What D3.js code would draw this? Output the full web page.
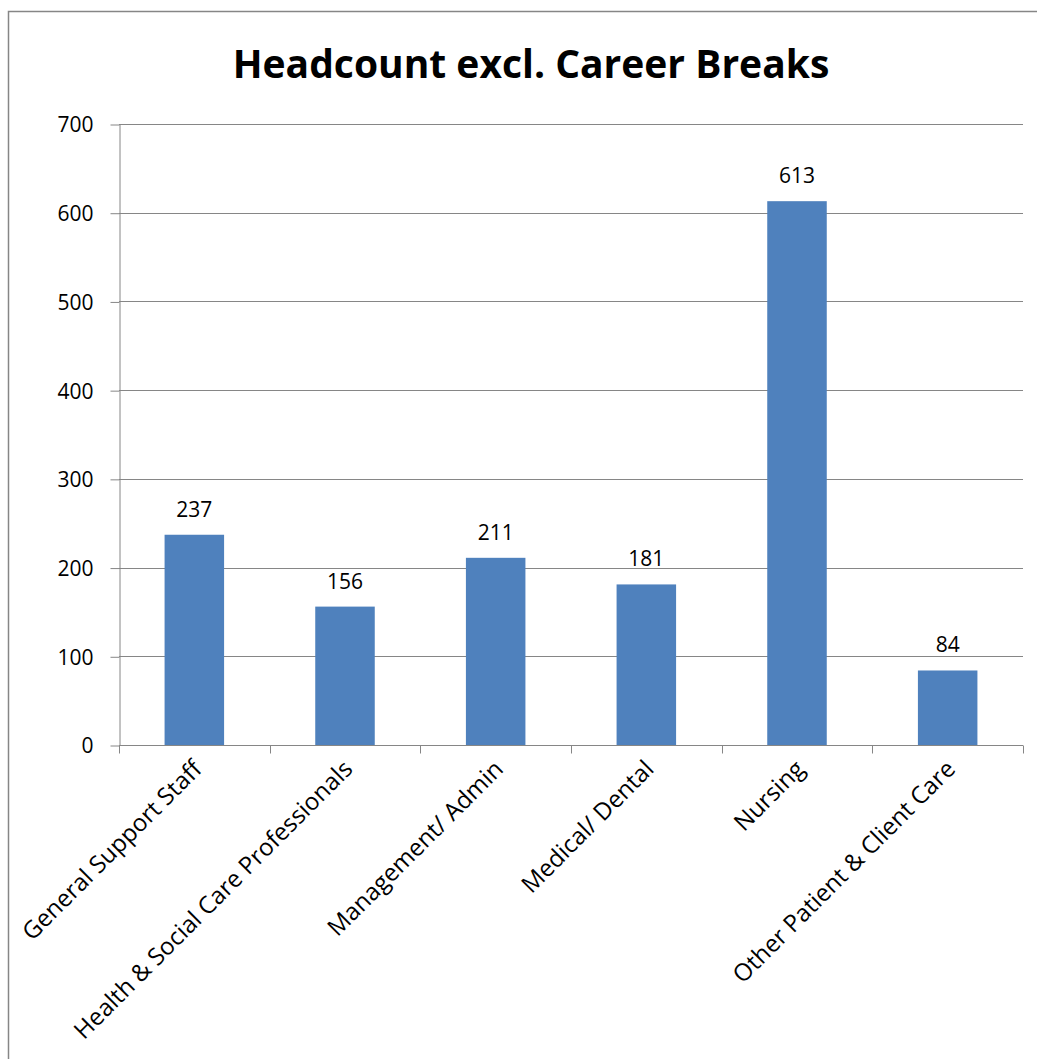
<!DOCTYPE html>
<html>
<head>
<meta charset="utf-8">
<script src="https://cdn.jsdelivr.net/npm/d3@7"></script>
<style>
  body { margin: 0; background: #fff; }
  svg text { font-family: "Open Sans", "Noto Sans", sans-serif; fill: #000; }
</style>
</head>
<body>
<script>
// data
var categories = ['General Support Staff', 'Health & Social Care Professionals', 'Management/ Admin',
  'Medical/ Dental', 'Nursing', 'Other Patient & Client Care'];
var headcount = [237, 156, 211, 181, 613, 84];
var yTicks = [0, 100, 200, 300, 400, 500, 600, 700];
var title = 'Headcount excl. Career Breaks';

var WIDTH = 1037;
var HEIGHT = 1059;
var plotLeft = 119, plotRight = 1023, plotTop = 124, plotBottom = 745;

var svg = d3.select('body')
  .append('svg')
  .attr('width', WIDTH)
  .attr('height', HEIGHT);

// outer chart frame
svg.append('rect')
  .attr('x', 8.5).attr('y', 11.5)
  .attr('width', 1040).attr('height', 1060)
  .attr('fill', 'none')
  .attr('stroke', '#868686')
  .attr('stroke-width', 1.5);

svg.append('text')
  .attr('x', 531).attr('y', 78)
  .attr('text-anchor', 'middle')
  .style('font-size', '39px')
  .style('font-weight', 'bold')
  .text(title);

var x = d3.scaleBand().domain(categories).range([plotLeft, plotRight]);
var y = d3.scaleLinear().domain([0, 700]).range([plotBottom, plotTop]);

// gridlines
svg.append('g').selectAll('line')
  .data(yTicks.slice(1))
  .enter()
  .append('line')
  .attr('x1', plotLeft).attr('x2', plotRight)
  .attr('y1', function(d){return Math.round(y(d)) + 0.5;})
  .attr('y2', function(d){return Math.round(y(d)) + 0.5;})
  .attr('stroke', '#868686');

// y axis
var yAxis = svg.append('g')
  .attr('transform', 'translate(' + (plotLeft + 0.5) + ',0.5)')
  .call(d3.axisLeft(y).tickValues(yTicks).tickSize(9).tickPadding(17).tickSizeOuter(0));
yAxis.selectAll('path, line').attr('stroke', '#868686');
yAxis.selectAll('text').style('font-size', '21px').attr('dy', '0.35em');

// bars
var barW = x.bandwidth() * 0.395;
svg.selectAll('rect.bar')
  .data(headcount)
  .enter()
  .append('rect')
  .attr('class', 'bar')
  .attr('x', function(d, i){return x(categories[i]) + (x.bandwidth() - barW) / 2;})
  .attr('y', function(d){return y(d);})
  .attr('width', barW)
  .attr('height', function(d){return y(0) - y(d);})
  .attr('fill', '#4F81BD');

// value labels
svg.selectAll('text.val')
  .data(headcount)
  .enter()
  .append('text')
  .attr('class', 'val')
  .attr('x', function(d, i){return x(categories[i]) + x.bandwidth() / 2;})
  .attr('y', function(d){return y(d) - 18;})
  .attr('text-anchor', 'middle')
  .style('font-size', '21px')
  .text(function(d){return d;});

// x axis
var xAxis = svg.append('g')
  .attr('transform', 'translate(0,' + (plotBottom + 0.5) + ')');
xAxis.append('line')
  .attr('x1', plotLeft).attr('x2', plotRight)
  .attr('stroke', '#868686');
xAxis.selectAll('line.tick')
  .data(d3.range(categories.length + 1))
  .enter()
  .append('line')
  .attr('class', 'tick')
  .attr('x1', function(i){return Math.round(plotLeft + i * x.step()) + 0.5;})
  .attr('x2', function(i){return Math.round(plotLeft + i * x.step()) + 0.5;})
  .attr('y1', 0).attr('y2', 8)
  .attr('stroke', '#868686');
xAxis.selectAll('text')
  .data(categories)
  .enter()
  .append('text')
  .attr('text-anchor', 'end')
  .attr('transform', function(d){
    return 'translate(' + (x(d) + x.bandwidth() / 2 + 9) + ',25) rotate(-45)';
  })
  .style('font-size', '24px')
  .text(function(d){return d;});
</script>
</body>
</html>
